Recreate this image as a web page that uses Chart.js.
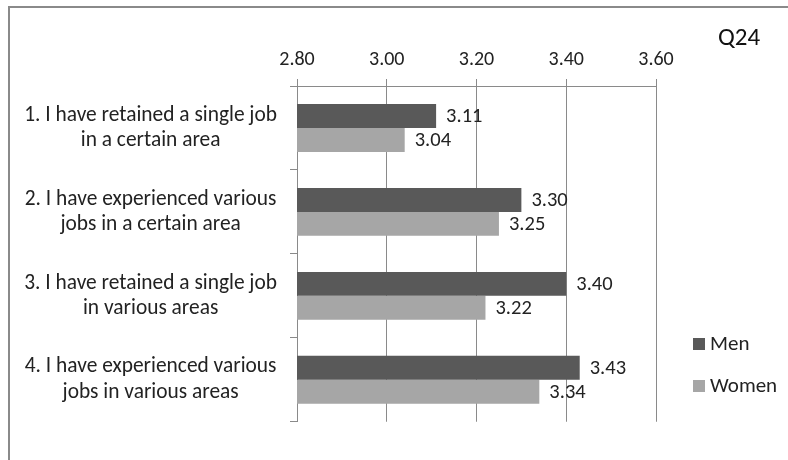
<!DOCTYPE html>
<html>
<head>
<meta charset="utf-8">
<script src="https://cdn.jsdelivr.net/npm/chart.js@4"></script>
<style>
  html, body { margin: 0; padding: 0; background: #ffffff; }
  #wrap { position: relative; width: 788px; height: 460px; }
</style>
</head>
<body>
<div id="wrap"><canvas id="c" width="788" height="460"></canvas></div>
<script>
const categories = [
  ["1. I have retained a single job", "in a certain area"],
  ["2. I have experienced various", "jobs in a certain area"],
  ["3. I have retained a single job", "in various areas"],
  ["4. I have experienced various", "jobs in various areas"]
];
const seriesNames = ["Men", "Women"];
const menValues = [3.11, 3.30, 3.40, 3.43];
const womenValues = [3.04, 3.25, 3.22, 3.34];
const tickValues = [2.80, 3.00, 3.20, 3.40, 3.60];
const chartTitle = "Q24";

const FONT = 'Carlito, Lato, "Open Sans", sans-serif';
const colors = ["#595959", "#a6a6a6"];

const extras = {
  id: 'extras',
  beforeDraw(chart) {
    const ctx = chart.ctx;
    ctx.save();
    ctx.fillStyle = '#ffffff';
    ctx.fillRect(0, 0, chart.width, chart.height);
    ctx.strokeStyle = '#8a8a8a';
    ctx.lineWidth = 2;
    ctx.beginPath();
    ctx.moveTo(9, chart.height + 5);
    ctx.lineTo(9, 7);
    ctx.lineTo(chart.width + 5, 7);
    ctx.stroke();
    ctx.restore();
  },
  afterDatasetsDraw(chart) {
    const ctx = chart.ctx;
    ctx.save();
    ctx.font = '20.5px ' + FONT;
    ctx.fillStyle = '#222222';
    ctx.textAlign = 'left';
    ctx.textBaseline = 'middle';
    chart.data.datasets.forEach((ds, di) => {
      const meta = chart.getDatasetMeta(di);
      meta.data.forEach((bar, i) => {
        ctx.fillText(ds.data[i].toFixed(2), bar.x + 10, bar.y + 1);
      });
    });
    // title
    ctx.font = '25px ' + FONT;
    ctx.fillStyle = '#111111';
    ctx.textAlign = 'left';
    ctx.fillText(chartTitle, 718, 39);
    // legend
    ctx.font = '21px ' + FONT;
    const ly = [344, 386];
    chart.data.datasets.forEach((ds, di) => {
      ctx.fillStyle = ds.backgroundColor;
      ctx.fillRect(693, ly[di] - 6, 12, 12);
      ctx.fillStyle = '#222222';
      ctx.fillText(ds.label, 710, ly[di] + 1);
    });
    ctx.restore();
  }
};

new Chart(document.getElementById('c'), {
  type: 'bar',
  data: {
    labels: categories,
    datasets: [
      { label: seriesNames[0], data: menValues, backgroundColor: colors[0], borderWidth: 0 },
      { label: seriesNames[1], data: womenValues, backgroundColor: colors[1], borderWidth: 0 }
    ]
  },
  options: {
    indexAxis: 'y',
    responsive: false,
    animation: false,
    layout: { padding: { top: 0, left: 0, right: 132, bottom: 29 } },
    categoryPercentage: 0.57,
    barPercentage: 1.0,
    plugins: { legend: { display: false }, tooltip: { enabled: false }, title: { display: false } },
    scales: {
      x: {
        position: 'top',
        min: 2.8, max: 3.6,
        afterBuildTicks(scale) { scale.ticks = tickValues.map(v => ({ value: v })); },
        afterFit(scale) { scale.height = 86; },
        ticks: {
          callback: (v) => Number(v).toFixed(2),
          font: { family: FONT, size: 20 },
          color: '#222222',
          padding: 7
        },
        grid: { color: '#8a8a8a', lineWidth: 1, tickLength: 7, drawTicks: true },
        border: { color: '#8a8a8a', width: 1 }
      },
      y: {
        afterFit(scale) { scale.width = 297; },
        ticks: {
          font: { family: FONT, size: 21.4, lineHeight: 1.18 },
          color: '#222222',
          crossAlign: 'center',
          padding: 13
        },
        grid: { drawOnChartArea: false, drawTicks: true, tickLength: 7, color: '#8a8a8a', offset: true },
        border: { color: '#8a8a8a', width: 1 }
      }
    }
  },
  plugins: [extras]
});
</script>
</body>
</html>
